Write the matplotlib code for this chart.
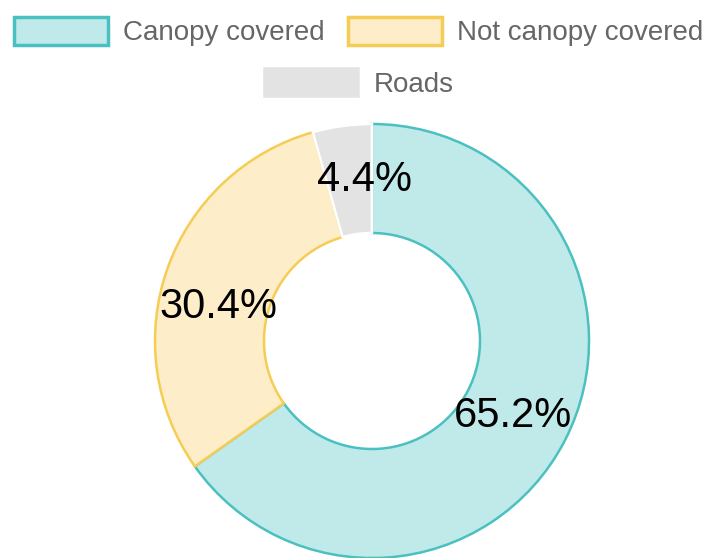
import matplotlib.pyplot as plt

# Land cover shares (percent)
labels = ['Canopy covered', 'Not canopy covered', 'Roads']
shares = [65.2, 30.4, 4.4]
fills = ['#c0eaea', '#fdedc9', '#e3e3e3']
edges = ['#4bc0c0', '#f5cd55', '#e3e3e3']
# small nudges of the percent labels (pixels), to match the original placement
label_nudge = [(-4, 0), (0, -20), (15, 0)]

plt.rcParams['font.family'] = ['Liberation Sans', 'DejaVu Sans']

W, H = 709, 558
fig = plt.figure(figsize=(W / 100, H / 100), dpi=100)
ax = fig.add_axes([0, 0, 1, 1])

radius = 217
wedges, _, pct_texts = ax.pie(
    shares, colors=fills, radius=radius, center=(372, H - 341),
    startangle=90, counterclock=False,
    autopct='%.1f%%', pctdistance=0.75,
    wedgeprops=dict(width=109, linewidth=1.8),
    textprops=dict(fontsize=30, color='black'),
    frame=True,
)
ax.set_xlim(0, W)
ax.set_ylim(0, H)
ax.set_aspect('equal')
ax.axis('off')
for w, ec in zip(wedges, edges):
    w.set_edgecolor(ec)
wedges[2].set_edgecolor('white')
for t, (dx, dy) in zip(pct_texts, label_nudge):
    x, y = t.get_position()
    t.set_position((x + dx, y + dy))

legend_kw = dict(frameon=False, fontsize=20, handlelength=3.4, handleheight=1.2,
                 handletextpad=0.54, columnspacing=0.82, borderpad=0,
                 labelcolor='#666666', loc='upper center')
leg1 = fig.legend(wedges[:2], labels[:2], ncol=2,
                  bbox_to_anchor=(0.506, 1 - 3 / H), **legend_kw)
leg2 = fig.legend([wedges[2]], labels[2:], ncol=1,
                  bbox_to_anchor=(0.506, 1 - 54 / H), **legend_kw)
for h, ec in zip(leg1.legend_handles, edges[:2]):
    h.set_edgecolor(ec)
    h.set_linewidth(2.5)
leg2.legend_handles[0].set_edgecolor(edges[2])

fig.savefig('out.png', dpi=100, facecolor='white')
